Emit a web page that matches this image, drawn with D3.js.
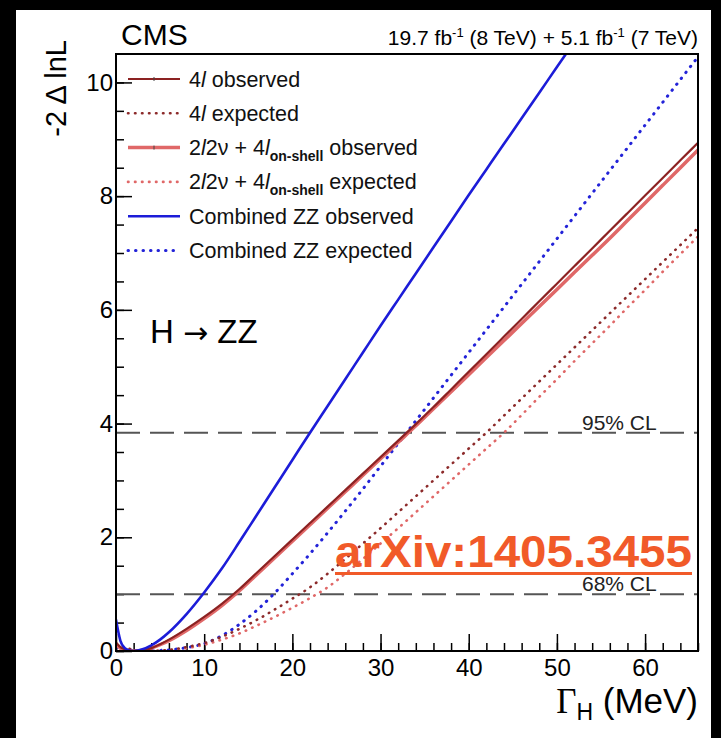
<!DOCTYPE html>
<html>
<head>
<meta charset="utf-8">
<script src="https://cdn.jsdelivr.net/npm/d3@7"></script>
<style>
  body { margin: 0; background: #000; }
  svg text { font-family: "Liberation Sans", Arial, Helvetica, sans-serif; }
</style>
</head>
<body>
<svg width="721" height="738"></svg>
<script>
// Higgs width scan: grid in MeV and -2ΔlnL values per channel
const gammaGrid = [0, 0.5, 1, 1.5, 2, 3, 4, 5, 6, 8, 10, 12, 14, 16, 18, 20, 22, 24, 26, 28, 30,
  32, 34, 36, 38, 40, 42, 44, 46, 48, 50, 52, 54, 56, 58, 60, 62, 64, 66];

const fourLObs = [0.15, 0.07, 0.03, 0.01, 0, 0.01, 0.05, 0.12, 0.2, 0.39, 0.6, 0.83, 1.09, 1.38, 1.67, 1.96, 2.25,
  2.54, 2.83, 3.12, 3.41, 3.7, 3.99, 4.29, 4.6, 4.91, 5.22, 5.53, 5.84, 6.15, 6.46, 6.77, 7.08, 7.39, 7.7,
  8.01, 8.32, 8.63, 8.94];
const fourLExp = [0.1, 0.08, 0.06, 0.04, 0.02, 0.005, 0, 0.005, 0.02, 0.07, 0.14, 0.25, 0.39, 0.55, 0.73, 0.92,
  1.12, 1.36, 1.62, 1.89, 2.16, 2.44, 2.72, 3.0, 3.28, 3.56, 3.84, 4.14, 4.44, 4.74, 5.04, 5.34, 5.64, 5.94,
  6.24, 6.54, 6.84, 7.14, 7.44];
const offShellObs = [0.12, 0.05, 0.02, 0, 0, 0.01, 0.05, 0.11, 0.18, 0.36, 0.57, 0.8, 1.06, 1.35, 1.64, 1.93,
  2.22, 2.51, 2.8, 3.09, 3.38, 3.67, 3.96, 4.26, 4.56, 4.86, 5.16, 5.46, 5.76, 6.06, 6.36, 6.66, 6.96, 7.26,
  7.57, 7.88, 8.19, 8.5, 8.81];
const offShellExp = [0.08, 0.06, 0.05, 0.03, 0.02, 0.005, 0, 0.004, 0.01, 0.05, 0.11, 0.2, 0.31, 0.45, 0.6,
  0.76, 0.93, 1.12, 1.36, 1.62, 1.89, 2.16, 2.44, 2.72, 3.0, 3.28, 3.56, 3.84, 4.15, 4.47, 4.78, 5.1, 5.41,
  5.72, 6.04, 6.35, 6.67, 6.98, 7.29];
const combinedObs = [0.55, 0.18, 0.05, 0.01, 0, 0.03, 0.1, 0.2, 0.33, 0.65, 1.03, 1.45, 1.92, 2.4, 2.88, 3.36,
  3.84, 4.31, 4.78, 5.25, 5.72, 6.18, 6.64, 7.1, 7.56, 8.02, 8.47, 8.92, 9.37, 9.82, 10.27, 10.72, 11.17,
  11.62, 12.07, 12.52, 12.97, 13.42, 13.87];
const combinedExp = [0.06, 0.04, 0.03, 0.02, 0.01, 0, 0, 0.01, 0.02, 0.06, 0.13, 0.27, 0.47, 0.72, 1.02, 1.36,
  1.71, 2.08, 2.46, 2.85, 3.25, 3.65, 4.05, 4.45, 4.85, 5.25, 5.65, 6.05, 6.45, 6.85, 7.25, 7.65, 8.05, 8.45,
  8.85, 9.25, 9.65, 10.05, 10.45];

const clLevels = [3.84, 1];
const clLabels = ["95% CL", "68% CL"];
const xTicks = [0, 10, 20, 30, 40, 50, 60];
const yTicks = [0, 2, 4, 6, 8, 10];

const svg = d3.select("svg");
const padL = 116, padR = 698, padT = 54, padB = 651;

const x = d3.scaleLinear().domain([0, 66]).range([padL, padR]);
const y = d3.scaleLinear().domain([0, 10.5]).range([padB, padT]);

// white page area
svg.append("rect").attr("x", 16).attr("y", 10).attr("width", 695).attr("height", 728).attr("fill", "#fff");

svg.append("defs").append("clipPath").attr("id", "plotClip")
  .append("rect").attr("x", padL).attr("y", padT).attr("width", padR - padL).attr("height", padB - padT);

// axes (ROOT style: ticks point inward)
svg.append("g").attr("transform", `translate(0,${padB})`)
  .call(d3.axisBottom(x).tickValues(xTicks).tickSize(-17).tickPadding(8).tickFormat(d3.format("d")));
svg.append("g").attr("transform", `translate(0,${padB})`)
  .call(d3.axisBottom(x).tickValues(d3.range(0, 67, 2)).tickSize(-8).tickFormat(""));
svg.append("g").attr("transform", `translate(${padL},0)`)
  .call(d3.axisLeft(y).tickValues(yTicks).tickSize(-16).tickPadding(3).tickFormat(d3.format("d")));
svg.append("g").attr("transform", `translate(${padL},0)`)
  .call(d3.axisLeft(y).tickValues(d3.range(0, 10.5, 0.5)).tickSize(-8).tickFormat(""));

svg.selectAll(".domain").remove();
svg.selectAll(".tick line").attr("stroke", "#000").attr("stroke-width", 1.5);
svg.selectAll(".tick text").attr("font-size", 24).attr("fill", "#000")
  .style("font-family", "'Liberation Sans', Arial, sans-serif");

// confidence level lines
const plot = svg.append("g").attr("clip-path", "url(#plotClip)");
plot.selectAll("line.cl").data(clLevels).enter().append("line")
  .attr("class", "cl")
  .attr("x1", padL).attr("x2", padR)
  .attr("y1", d => y(d)).attr("y2", d => y(d))
  .attr("stroke", "#555").attr("stroke-width", 2).attr("stroke-dasharray", "24,10");
svg.selectAll("text.cl").data(clLevels).enter().append("text")
  .attr("class", "cl")
  .attr("x", 582).attr("y", d => y(d) - 3)
  .attr("font-size", 21).attr("fill", "#222")
  .text((d, i) => clLabels[i]);

// curves
const series = [
  { name: "combinedExp", vals: combinedExp, color: "#2323d8", width: 3, dash: "0.5,7" },
  { name: "offShellExp", vals: offShellExp, color: "#e06868", width: 2.6, dash: "0.5,6.5" },
  { name: "fourLExp", vals: fourLExp, color: "#8c2a2a", width: 2.6, dash: "0.5,6.5" },
  { name: "offShellObs", vals: offShellObs, color: "#e06868", width: 3.5, dash: null },
  { name: "fourLObs", vals: fourLObs, color: "#8c2222", width: 2.2, dash: null },
  { name: "combinedObs", vals: combinedObs, color: "#1c1cd8", width: 2.6, dash: null }
];

const line = d3.line().x(d => x(d[0])).y(d => y(d[1])).curve(d3.curveMonotoneX);

plot.selectAll("path.curve").data(series).enter().append("path")
  .attr("class", "curve")
  .attr("d", s => line(gammaGrid.map((g, i) => [g, s.vals[i]])))
  .attr("fill", "none")
  .attr("stroke", s => s.color)
  .attr("stroke-width", s => s.width)
  .attr("stroke-linecap", "round")
  .attr("stroke-dasharray", s => s.dash);

// frame
svg.append("rect").attr("x", padL).attr("y", padT).attr("width", padR - padL).attr("height", padB - padT)
  .attr("fill", "none").attr("stroke", "#000").attr("stroke-width", 2);

// legend
const legendRows = [
  { color: "#8c2222", width: 2.2, dash: null, marker: true, parts: [["4", ""], ["l", "it"], [" observed", ""]] },
  { color: "#8c2a2a", width: 2.6, dash: "0.5,6.5", parts: [["4", ""], ["l", "it"], [" expected", ""]] },
  { color: "#e06868", width: 3.5, dash: null, marker: true,
    parts: [["2", ""], ["l", "it"], ["2ν + 4", ""], ["l", "it"], ["on-shell", "sub"], [" observed", ""]] },
  { color: "#e06868", width: 2.6, dash: "0.5,6.5",
    parts: [["2", ""], ["l", "it"], ["2ν + 4", ""], ["l", "it"], ["on-shell", "sub"], [" expected", ""]] },
  { color: "#1c1cd8", width: 2.6, dash: null, parts: [["Combined ZZ observed", ""]] },
  { color: "#2323d8", width: 3, dash: "0.5,7", parts: [["Combined ZZ expected", ""]] }
];

const legend = svg.append("g");
legendRows.forEach((row, i) => {
  const cy = 79 + i * 34.3;
  legend.append("line").attr("x1", 128).attr("x2", 180).attr("y1", cy).attr("y2", cy)
    .attr("stroke", row.color).attr("stroke-width", row.width)
    .attr("stroke-linecap", row.dash ? "round" : "butt")
    .attr("stroke-dasharray", row.dash);
  if (row.marker) {
    legend.append("line").attr("x1", 154).attr("x2", 154).attr("y1", cy - 2).attr("y2", cy + 2)
      .attr("stroke", "#444").attr("stroke-width", 1);
  }
  const t = legend.append("text").attr("x", 189).attr("y", cy + 7.5).attr("font-size", 21.5).attr("fill", "#111");
  let shift = 0;
  row.parts.forEach(([txt, style]) => {
    const ts = t.append("tspan").text(txt);
    if (style === "it") ts.attr("font-style", "italic");
    if (style === "sub") {
      ts.attr("font-size", 14).attr("font-weight", "bold").attr("dy", 6);
      shift = 6;
    } else if (shift) {
      ts.attr("dy", -shift);
      shift = 0;
    }
  });
});

// process label
const proc = svg.append("text").attr("x", 150).attr("y", 343).attr("font-size", 33).attr("fill", "#000");
proc.append("tspan").text("H ");
proc.append("tspan").style("font-family", "'DejaVu Sans', sans-serif").attr("font-size", 30).text("→");
proc.append("tspan").text(" ZZ");

// header
svg.append("text").attr("x", 121).attr("y", 45).attr("font-size", 30).attr("fill", "#000").text("CMS");
const lumi = svg.append("text").attr("x", padR).attr("y", 45).attr("font-size", 21)
  .attr("text-anchor", "end").attr("fill", "#000");
lumi.append("tspan").text("19.7 fb");
lumi.append("tspan").attr("font-size", 13).attr("dy", -8).text("-1");
lumi.append("tspan").attr("dy", 8).text(" (8 TeV) + 5.1 fb");
lumi.append("tspan").attr("font-size", 13).attr("dy", -8).text("-1");
lumi.append("tspan").attr("dy", 8).text(" (7 TeV)");

// axis titles
svg.append("text").attr("transform", `translate(66,40) rotate(-90)`)
  .attr("text-anchor", "end").attr("font-size", 29).attr("fill", "#000").text("-2 Δ lnL");
const xt = svg.append("text").attr("x", padR).attr("y", 713).attr("text-anchor", "end")
  .attr("font-size", 35).attr("fill", "#000");
xt.append("tspan").style("font-family", "'Liberation Serif', serif").text("Γ");
xt.append("tspan").attr("font-size", 23).attr("dy", 7).text("H");
xt.append("tspan").attr("dy", -7).text(" (MeV)");

// arXiv reference
svg.append("text").attr("x", 335).attr("y", 567).attr("font-size", 45).attr("font-weight", "bold")
  .attr("fill", "#f15a29").attr("textLength", 357).attr("lengthAdjust", "spacingAndGlyphs").text("arXiv:1405.3455");
svg.append("rect").attr("x", 335).attr("y", 572).attr("width", 357).attr("height", 3).attr("fill", "#f15a29");
</script>
</body>
</html>
